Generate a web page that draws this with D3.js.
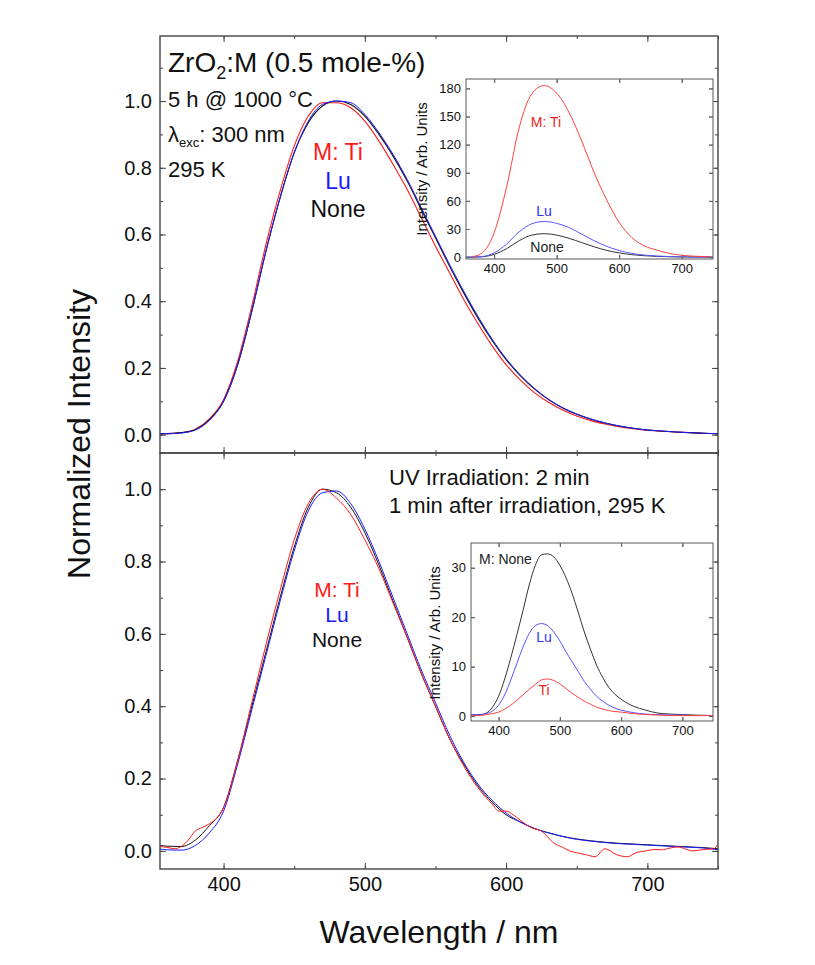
<!DOCTYPE html>
<html>
<head>
<meta charset="utf-8">
<script src="https://cdn.jsdelivr.net/npm/d3@7"></script>
<style>
body{margin:0;background:#fff}
svg{display:block;font-family:Arial,"Liberation Sans",sans-serif}
</style>
</head>
<body>
<svg id="chart" width="815" height="965"></svg>
<script>
// main panels, wavelength grid (nm)
var wl = [355,360,370,380,390,400,410,420,430,440,450,460,470,480,490,500,510,520,530,540,550,560,570,580,590,600,610,620,630,640,650,660,670,680,690,700,710,720,730,740,750]

// top: after 5 h @ 1000 C, normalized
var topNone = [0.003,0.003,0.006,0.015,0.045,0.10,0.21,0.37,0.55,0.71,0.845,0.935,0.985,1.0,0.99,0.955,0.9,0.835,0.76,0.675,0.59,0.505,0.425,0.35,0.283,0.225,0.177,0.137,0.105,0.08,0.061,0.046,0.035,0.026,0.019,0.014,0.011,0.008,0.006,0.004,0.003]
var topLu   = [0.002,0.003,0.005,0.014,0.043,0.10,0.21,0.37,0.55,0.71,0.845,0.94,0.99,1.0,0.995,0.96,0.905,0.84,0.765,0.68,0.595,0.51,0.43,0.355,0.287,0.228,0.179,0.139,0.106,0.081,0.062,0.047,0.035,0.026,0.019,0.014,0.011,0.008,0.006,0.004,0.003]
var topTi   = [0.003,0.003,0.006,0.016,0.047,0.105,0.22,0.385,0.57,0.73,0.865,0.955,0.995,0.995,0.98,0.94,0.88,0.81,0.735,0.65,0.565,0.485,0.405,0.333,0.267,0.21,0.164,0.126,0.097,0.074,0.056,0.042,0.032,0.024,0.018,0.013,0.01,0.008,0.006,0.004,0.003]

// bottom: 1 min after UV irradiation, normalized
var botNone = [0.015,0.013,0.012,0.03,0.07,0.12,0.25,0.40,0.55,0.70,0.84,0.95,1.0,0.99,0.95,0.88,0.79,0.69,0.59,0.49,0.40,0.31,0.24,0.18,0.135,0.10,0.08,0.062,0.05,0.04,0.033,0.028,0.024,0.021,0.019,0.017,0.015,0.013,0.011,0.009,0.006]
var botLu   = [0.005,0.003,0.002,0.015,0.05,0.11,0.24,0.39,0.54,0.69,0.83,0.94,0.99,0.995,0.96,0.89,0.80,0.70,0.60,0.50,0.41,0.32,0.245,0.185,0.14,0.105,0.08,0.062,0.05,0.04,0.032,0.027,0.023,0.02,0.018,0.016,0.014,0.012,0.01,0.008,0.003]
var tiWl  = [355,360,365,370,375,380,385,390,395,400,410,420,430,440,450,460,470,480,490,500,510,520,530,540,550,560,570,580,590,595,600,605,610,618,625,634,640,645,650,656,663,670,678,686,692,699,705,710,716,722,727,732,740,747,750]
var botTi = [0.012,0.01,0.006,0.012,0.03,0.055,0.065,0.075,0.09,0.12,0.25,0.41,0.57,0.72,0.86,0.96,1.0,0.975,0.93,0.86,0.78,0.685,0.59,0.49,0.40,0.31,0.235,0.175,0.13,0.11,0.11,0.10,0.085,0.064,0.055,0.021,0.01,0.0,-0.005,-0.01,-0.016,0.006,-0.01,-0.016,-0.005,0.0,0.004,0.003,0.008,0.011,0.005,0.0,0.004,0.006,0.02]

// top inset, absolute intensity
var inWl   = [355,370,380,400,420,440,460,480,500,520,540,560,580,600,620,640,660,680,700,720,750]
var inTiWl = [365,380,400,420,440,460,480,500,520,540,560,580,600,620,640,660,680,700,720,745]
var inTi   = [0.5,4,26,75,138,174,183,175,154,124,90,61,37,21,12,7.5,4,2,1,0.5]
var inLu   = [0,0.2,0.5,4.5,14,27,35.5,38,36,31.5,24.5,17.5,11.5,7,4,2.2,1.2,0.6,0.3,0.1,0]
var inNone = [0,0.1,0.3,3,9,17.5,23.5,25,23.5,20,15.5,11,7.2,4.5,2.6,1.5,0.8,0.4,0.2,0.1,0]

// bottom inset, absolute intensity
var in2Wl   = [355,370,380,390,400,410,420,430,440,450,460,470,480,490,500,510,520,530,540,550,560,570,580,590,600,620,640,660,680,700,720,750]
var in2None = [0.3,0.3,0.6,1.8,4,7.5,11.8,16.5,21.4,26.5,30.5,32.6,32.8,32.2,30.5,28,24.8,21,17,13.5,10.3,7.8,5.8,4.4,3.4,2.0,1.2,0.6,0.4,0.3,0.2,0.1]
var in2Lu   = [0.3,0.3,0.5,1.0,2.2,4.3,7.3,10.7,14.0,16.7,18.3,18.7,18.3,17,15.2,13,11,9,7,5.4,4,3,2.2,1.6,1.2,0.7,0.4,0.3,0.2,0.2,0.1,0.1]
var in2Ti   = [0.1,0.1,0.3,0.5,0.8,1.4,2.2,3.2,4.3,5.4,6.4,7.3,7.5,7.2,6.5,5.6,4.6,3.8,3.0,2.4,1.8,1.4,1.1,0.9,0.8,0.5,0.3,0.2,0.1,0.1,0.1,0.1]

var xTicks = [400,500,600,700]
var xMinor = [400,450,500,550,600,650,700,750]
var yTicks = [0,0.2,0.4,0.6,0.8,1.0]
var yMinor = [0,0.1,0.2,0.3,0.4,0.5,0.6,0.7,0.8,0.9,1.0,1.1]
var inTicks = [0,30,60,90,120,150,180]
var in2Ticks = [0,10,20,30]

var RED = "#ff1a1a", BLUE = "#1a1aff", BLACK = "#111"

var svg = d3.select("#chart")
svg.append("rect").attr("width",815).attr("height",965).attr("fill","#fff")

function zip(a,b){ return a.map(function(v,i){ return [v,b[i]] }) }

// draws inward ticks on all four sides plus frame
function frame(g, x, y, o){
  var x0 = x.range()[0], x1 = x.range()[1], y0 = y.range()[0], y1 = y.range()[1]
  var yd = y.domain()
  var ym = o.yMinor.filter(function(v){ return v>=yd[0] && v<=yd[1] })
  var mk = function(axis, tr, vals, size, labels, fmt){
    var a = axis.tickValues(vals).tickSize(-size).tickPadding(o.pad)
    if(!labels) a.tickFormat("")
    else a.tickFormat(fmt || null)
    var s = g.append("g").attr("transform", tr).call(a)
    s.select(".domain").remove()
    s.selectAll("line").attr("stroke", o.stroke).attr("stroke-width", 1)
    s.selectAll("text").attr("fill","#111").style("font-size", o.font+"px").style("font-family","Arial,'Liberation Sans',sans-serif")
    return s
  }
  mk(d3.axisBottom(x), "translate(0,"+y0+")", o.xMinor, o.minor, false)
  mk(d3.axisBottom(x), "translate(0,"+y0+")", o.xTicks, o.major, o.xLabels, d3.format("d"))
  mk(d3.axisTop(x), "translate(0,"+y1+")", o.xMinor, o.minor, false)
  mk(d3.axisTop(x), "translate(0,"+y1+")", o.xTicks, o.major, false)
  mk(d3.axisLeft(y), "translate("+x0+",0)", ym, o.minor, false)
  mk(d3.axisLeft(y), "translate("+x0+",0)", o.yTicks, o.major, true, o.fmt)
  mk(d3.axisRight(y), "translate("+x1+",0)", ym, o.minor, false)
  mk(d3.axisRight(y), "translate("+x1+",0)", o.yTicks, o.major, false)
  g.append("rect").attr("x",x0).attr("y",y1).attr("width",x1-x0).attr("height",y0-y1)
    .attr("fill","none").attr("stroke",o.stroke).attr("stroke-width",o.sw)
}

function curve(g, x, y, xs, ys, color, w, clip){
  var line = d3.line().x(function(d){ return x(d[0]) }).y(function(d){ return y(d[1]) }).curve(d3.curveMonotoneX)
  g.append("path").datum(zip(xs,ys)).attr("d", line).attr("fill","none")
    .attr("stroke", color).attr("stroke-width", w).attr("clip-path","url(#"+clip+")")
}

function clipFor(id, x, y){
  svg.append("clipPath").attr("id", id).append("rect")
    .attr("x", x.range()[0]).attr("y", y.range()[1])
    .attr("width", x.range()[1]-x.range()[0]).attr("height", y.range()[0]-y.range()[1])
}

var x = d3.scaleLinear().domain([355,750]).range([160,718])
var yTop = d3.scaleLinear().domain([-0.055,1.195]).range([453,36])
var yBot = d3.scaleLinear().domain([-0.05,1.1]).range([869,453])
clipFor("cTop", x, yTop)
clipFor("cBot", x, yBot)

var fmt1 = d3.format(".1f")
var mainOpt = {xTicks:xTicks, xMinor:xMinor, yTicks:yTicks, yMinor:yMinor, major:6, minor:3, pad:8, font:20, stroke:"#444", sw:1.4, fmt:fmt1}

// top panel
var gT = svg.append("g")
curve(gT, x, yTop, wl, topTi, RED, 1.1, "cTop")
curve(gT, x, yTop, wl, topNone, BLACK, 1.1, "cTop")
curve(gT, x, yTop, wl, topLu, BLUE, 1.0, "cTop")
frame(gT, x, yTop, Object.assign({}, mainOpt, {xLabels:false}))

// bottom panel
var gB = svg.append("g")
curve(gB, x, yBot, wl, botNone, BLACK, 1.0, "cBot")
curve(gB, x, yBot, wl, botLu, BLUE, 1.0, "cBot")
curve(gB, x, yBot, tiWl, botTi, RED, 1.0, "cBot")
frame(gB, x, yBot, Object.assign({}, mainOpt, {xLabels:true}))

// axis titles
svg.append("text").attr("x",439).attr("y",943).attr("text-anchor","middle")
  .style("font-size","32px").attr("fill","#111").text("Wavelength / nm")
svg.append("text").attr("transform","translate(90,434) rotate(-90)").attr("text-anchor","middle")
  .style("font-size","32px").attr("fill","#111").text("Normalized Intensity")

// top panel notes
var t1 = svg.append("text").attr("x",168).attr("y",72).style("font-size","28px").attr("fill","#111")
t1.append("tspan").text("ZrO")
t1.append("tspan").attr("dy",7).style("font-size","18px").text("2")
t1.append("tspan").attr("dy",-7).text(":M (0.5 mole-%)")
svg.append("text").attr("x",168).attr("y",107).style("font-size","22px").attr("fill","#111").text("5 h @ 1000 °C")
var t3 = svg.append("text").attr("x",168).attr("y",142).style("font-size","22px").attr("fill","#111")
t3.append("tspan").text("λ")
t3.append("tspan").attr("dy",5).style("font-size","13px").text("exc")
t3.append("tspan").attr("dy",-5).text(": 300 nm")
svg.append("text").attr("x",168).attr("y",177).style("font-size","22px").attr("fill","#111").text("295 K")

var keyTop = [["M: Ti",RED,160],["Lu",BLUE,189],["None",BLACK,217]]
keyTop.forEach(function(k){
  svg.append("text").attr("x",338).attr("y",k[2]).attr("text-anchor","middle")
    .style("font-size","23px").attr("fill",k[1]).text(k[0])
})

// bottom panel notes
svg.append("text").attr("x",389).attr("y",485).style("font-size","22px").attr("fill","#111").text("UV Irradiation: 2 min")
svg.append("text").attr("x",389).attr("y",513).style("font-size","22px").attr("fill","#111").text("1 min after irradiation, 295 K")
var keyBot = [["M: Ti",RED,597],["Lu",BLUE,622],["None",BLACK,647]]
keyBot.forEach(function(k){
  svg.append("text").attr("x",337).attr("y",k[2]).attr("text-anchor","middle")
    .style("font-size","21px").attr("fill",k[1]).text(k[0])
})

// insets
var inOpt = {xTicks:xTicks, xMinor:xTicks, major:4, minor:4, pad:5, font:13, stroke:"#666", sw:1.1, xLabels:true}

var xi = d3.scaleLinear().domain([355,750]).range([466,713])
var yi = d3.scaleLinear().domain([-2,190]).range([259,79])
clipFor("cIn1", xi, yi)
var gI = svg.append("g")
gI.append("rect").attr("x",466).attr("y",79).attr("width",247).attr("height",180).attr("fill","#fff")
curve(gI, xi, yi, inWl, inNone, "#333", 1, "cIn1")
curve(gI, xi, yi, inWl, inLu, "#5555ff", 1, "cIn1")
curve(gI, xi, yi, inTiWl, inTi, "#ff4040", 1, "cIn1")
frame(gI, xi, yi, Object.assign({}, inOpt, {yTicks:inTicks, yMinor:inTicks}))
gI.append("text").attr("transform","translate(427,169) rotate(-90)").attr("text-anchor","middle")
  .style("font-size","15px").attr("fill","#111").text("Intensity / Arb. Units")
gI.append("text").attr("x",546).attr("y",127).attr("text-anchor","middle").style("font-size","14px").attr("fill","#ee2222").text("M: Ti")
gI.append("text").attr("x",544).attr("y",216).attr("text-anchor","middle").style("font-size","14px").attr("fill","#3333ee").text("Lu")
gI.append("text").attr("x",547).attr("y",252).attr("text-anchor","middle").style("font-size","14px").attr("fill","#222").text("None")

var xj = d3.scaleLinear().domain([355,750]).range([471,713])
var yj = d3.scaleLinear().domain([-1,35]).range([721,543])
clipFor("cIn2", xj, yj)
var gJ = svg.append("g")
gJ.append("rect").attr("x",471).attr("y",543).attr("width",242).attr("height",178).attr("fill","#fff")
curve(gJ, xj, yj, in2Wl, in2None, "#333", 1, "cIn2")
curve(gJ, xj, yj, in2Wl, in2Lu, "#5555ff", 1, "cIn2")
curve(gJ, xj, yj, in2Wl, in2Ti, "#ff4040", 1, "cIn2")
frame(gJ, xj, yj, Object.assign({}, inOpt, {yTicks:in2Ticks, yMinor:in2Ticks}))
gJ.append("text").attr("transform","translate(440,633) rotate(-90)").attr("text-anchor","middle")
  .style("font-size","15px").attr("fill","#111").text("Intensity / Arb. Units")
gJ.append("text").attr("x",479).attr("y",564).style("font-size","14px").attr("fill","#222").text("M: None")
gJ.append("text").attr("x",544).attr("y",642).attr("text-anchor","middle").style("font-size","14px").attr("fill","#3333ee").text("Lu")
gJ.append("text").attr("x",544).attr("y",695).attr("text-anchor","middle").style("font-size","14px").attr("fill","#ee2222").text("Ti")
</script>
</body>
</html>
